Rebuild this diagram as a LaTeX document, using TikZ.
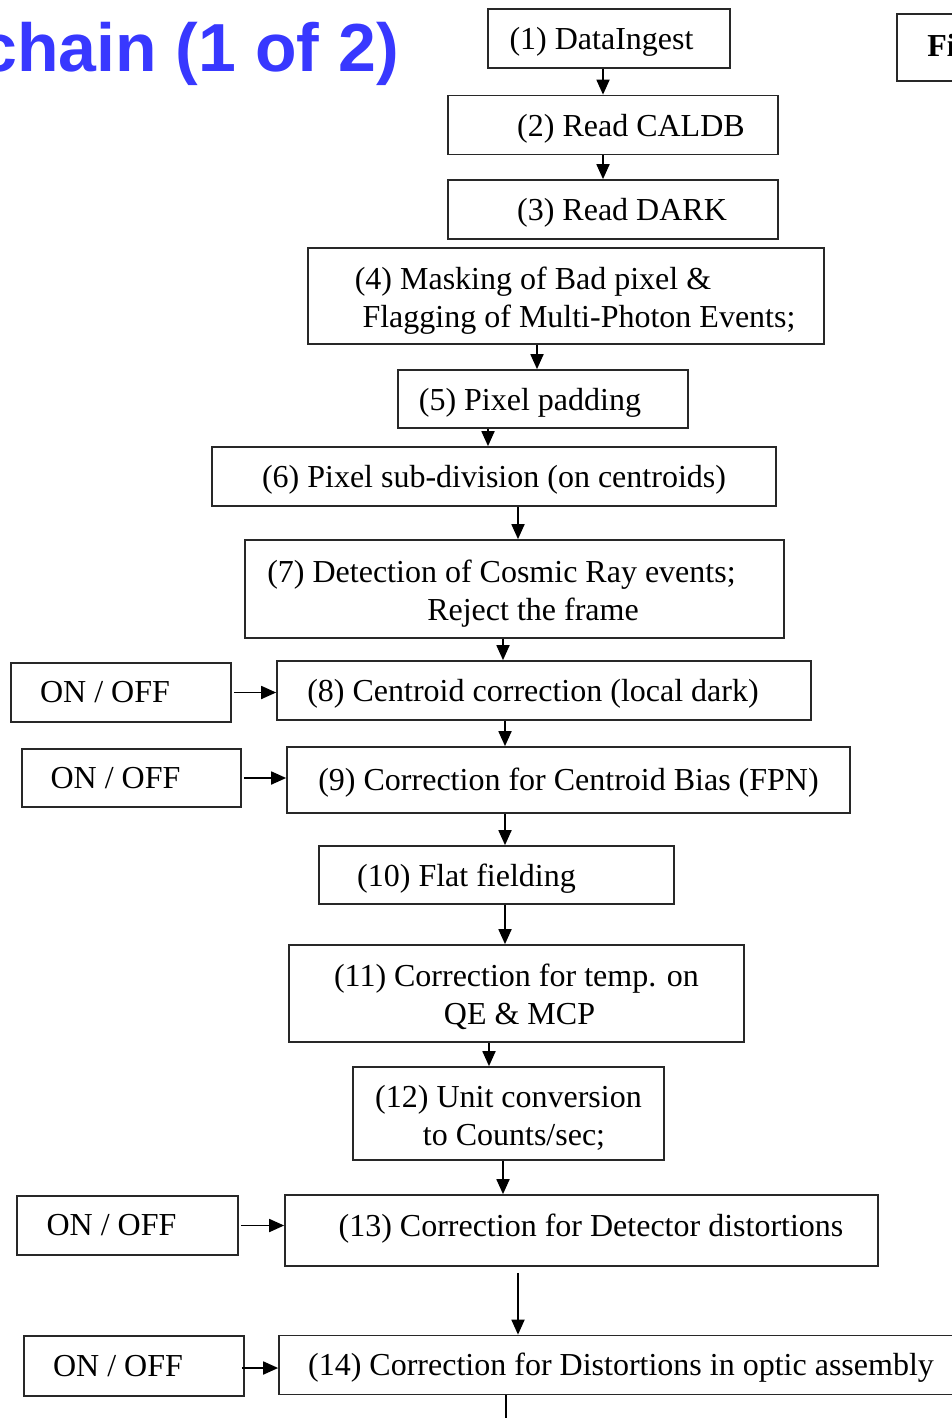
\documentclass[tikz,border=0pt]{standalone}
\usepackage{fontspec}
\setmainfont{Liberation Serif}
\newfontfamily\titlefont{Liberation Sans}
\usetikzlibrary{arrows.meta}
\definecolor{titleblue}{RGB}{56,56,255}
\definecolor{edge}{RGB}{40,40,40}
% shift a line of text sideways without changing its width
\newcommand\sh[2]{\kern#1pt#2\kern-#1pt}
% invisible strut that lowers a multi-line block
\newcommand\lift[1]{\rule{0pt}{#1pt}}
\tikzset{
  stepbox/.style={draw=edge, line width=1.7pt, rectangle, inner sep=0pt,
    font=\fontsize{32}{38}\selectfont, align=center},
  one/.style={text height=26pt, text depth=4pt},
  switch/.style={stepbox, one, text height=25pt, text depth=5pt},
  arr/.style={draw=black, line width=1.8pt, -{Triangle[length=15pt,width=13pt]}},
}
\begin{document}
\begin{tikzpicture}[x=1pt,y=-1pt]
\useasboundingbox (0,0) rectangle (951,1418);

% heading
\node[anchor=base east, inner sep=0pt, text=titleblue,
      font=\titlefont\bfseries\fontsize{68}{68}\selectfont] (title) at (399,72) {chain (1 of 2)};

% box at the top right
\node[stepbox, one, text height=24pt, text depth=6pt, minimum width=113pt, minimum height=67pt,
      font=\bfseries\fontsize{32}{38}\selectfont] (fi) at (953.5,47.5) {\sh{-12}{Fi}};

% main chain
\node[stepbox, one, minimum width=242pt, minimum height=59pt] (n1) at (609,38.5) {\sh{-7.5}{(1) DataIngest}};
\node[stepbox, one, minimum width=330pt, minimum height=59pt] (n2) at (613,125) {\sh{18}{(2) Read CALDB}};
\node[stepbox, one, minimum width=330pt, minimum height=59pt] (n3) at (613,209.5) {\sh{9}{(3) Read DARK}};
\node[stepbox, minimum width=516pt, minimum height=96pt] (n4) at (566,296)
  {\lift{32}\sh{-33}{(4) Masking of Bad pixel \&}\\\sh{13}{Flagging of Multi-Photon Events;}};
\node[stepbox, one, minimum width=290pt, minimum height=58pt] (n5) at (543,399) {\sh{-13}{(5) Pixel padding}};
\node[stepbox, one, minimum width=564pt, minimum height=59pt] (n6) at (494,476.5) {(6) Pixel sub-division (on centroids)};
\node[stepbox, minimum width=539pt, minimum height=98pt] (n7) at (514.5,589)
  {\lift{31}\sh{-13}{(7) Detection of Cosmic Ray events;}\\\sh{18.5}{Reject the frame}};
\node[stepbox, one, text height=25.5pt, text depth=4.5pt, minimum width=534pt, minimum height=59pt] (n8) at (544,690.5)
  {\sh{-11}{(8) Centroid correction (local dark)}};
\node[stepbox, one, text height=25pt, text depth=5pt, minimum width=563pt, minimum height=66pt] (n9) at (568.5,780)
  {(9) Correction for Centroid Bias (FPN)};
\node[stepbox, one, minimum width=355pt, minimum height=58pt] (n10) at (496.5,875) {\sh{-30}{(10) Flat fielding}};
\node[stepbox, minimum width=455pt, minimum height=97pt] (n11) at (516.5,993.5)
  {\lift{29}(11) Correction for temp. on\\\sh{3}{QE \& MCP}};
\node[stepbox, minimum width=311pt, minimum height=93pt] (n12) at (508.5,1113.5)
  {\lift{31}(12) Unit conversion\\\sh{5.5}{to Counts/sec;}};
\node[stepbox, one, text height=21pt, text depth=9pt, minimum width=593pt, minimum height=71pt] (n13) at (581.5,1230.5)
  {\sh{9.5}{(13) Correction for Detector distortions}};
\node[stepbox, one, text height=25.5pt, text depth=4.5pt, minimum width=684pt, minimum height=59pt] (n14) at (621,1365)
  {(14) Correction for Distortions in optic assembly};

% switches
\node[switch, minimum width=220pt, minimum height=59pt] (o8) at (121,692.5) {\sh{-16}{ON / OFF}};
\node[switch, minimum width=219pt, minimum height=58pt] (o9) at (131.5,778) {\sh{-16}{ON / OFF}};
\node[switch, minimum width=221pt, minimum height=59pt] (o13) at (127.5,1225.5) {\sh{-16}{ON / OFF}};
\node[switch, minimum width=220pt, minimum height=60pt] (o14) at (134,1366) {\sh{-16}{ON / OFF}};

\coordinate (out) at (506,1425);

% flow
\draw[arr] ([xshift=-6pt]n1.south) -- ([xshift=-6pt]n1.south |- n2.north);
\draw[arr] ([xshift=-10pt]n2.south) -- ([xshift=-10pt]n2.south |- n3.north);
\draw[arr] ([xshift=-29pt]n4.south) -- ([xshift=-29pt]n4.south |- n5.north);
\draw[arr] ([xshift=-55pt]n5.south) -- ([xshift=-55pt]n5.south |- n6.north);
\draw[arr] ([xshift=24pt]n6.south) -- ([xshift=24pt]n6.south |- n7.north);
\draw[arr] ([xshift=-11.5pt]n7.south) -- ([xshift=-11.5pt]n7.south |- n8.north);
\draw[arr] ([xshift=-39pt]n8.south) -- ([xshift=-39pt]n8.south |- n9.north);
\draw[arr] ([xshift=-63.5pt]n9.south) -- ([xshift=-63.5pt]n9.south |- n10.north);
\draw[arr] ([xshift=8.5pt]n10.south) -- ([xshift=8.5pt]n10.south |- n11.north);
\draw[arr] ([xshift=-27.5pt]n11.south) -- ([xshift=-27.5pt]n11.south |- n12.north);
\draw[arr] ([xshift=-5.5pt]n12.south) -- ([xshift=-5.5pt]n12.south |- n13.north);
\draw[arr] ([xshift=-63.5pt,yshift=-6pt]n13.south) -- ([xshift=-63.5pt]n13.south |- n14.north);
\draw[line width=1.8pt] ([xshift=-115pt]n14.south) -- (out);

% switch inputs
\draw[arr] ([xshift=2pt]o8.east) -- (o8.east -| n8.west);
\draw[arr] ([xshift=2pt]o9.east) -- (o9.east -| n9.west);
\draw[arr] ([xshift=2pt]o13.east) -- (o13.east -| n13.west);
\draw[arr] ([xshift=-3pt,yshift=-2pt]o14.east) -- ([yshift=-2pt]o14.east -| n14.west);
\end{tikzpicture}
\end{document}
